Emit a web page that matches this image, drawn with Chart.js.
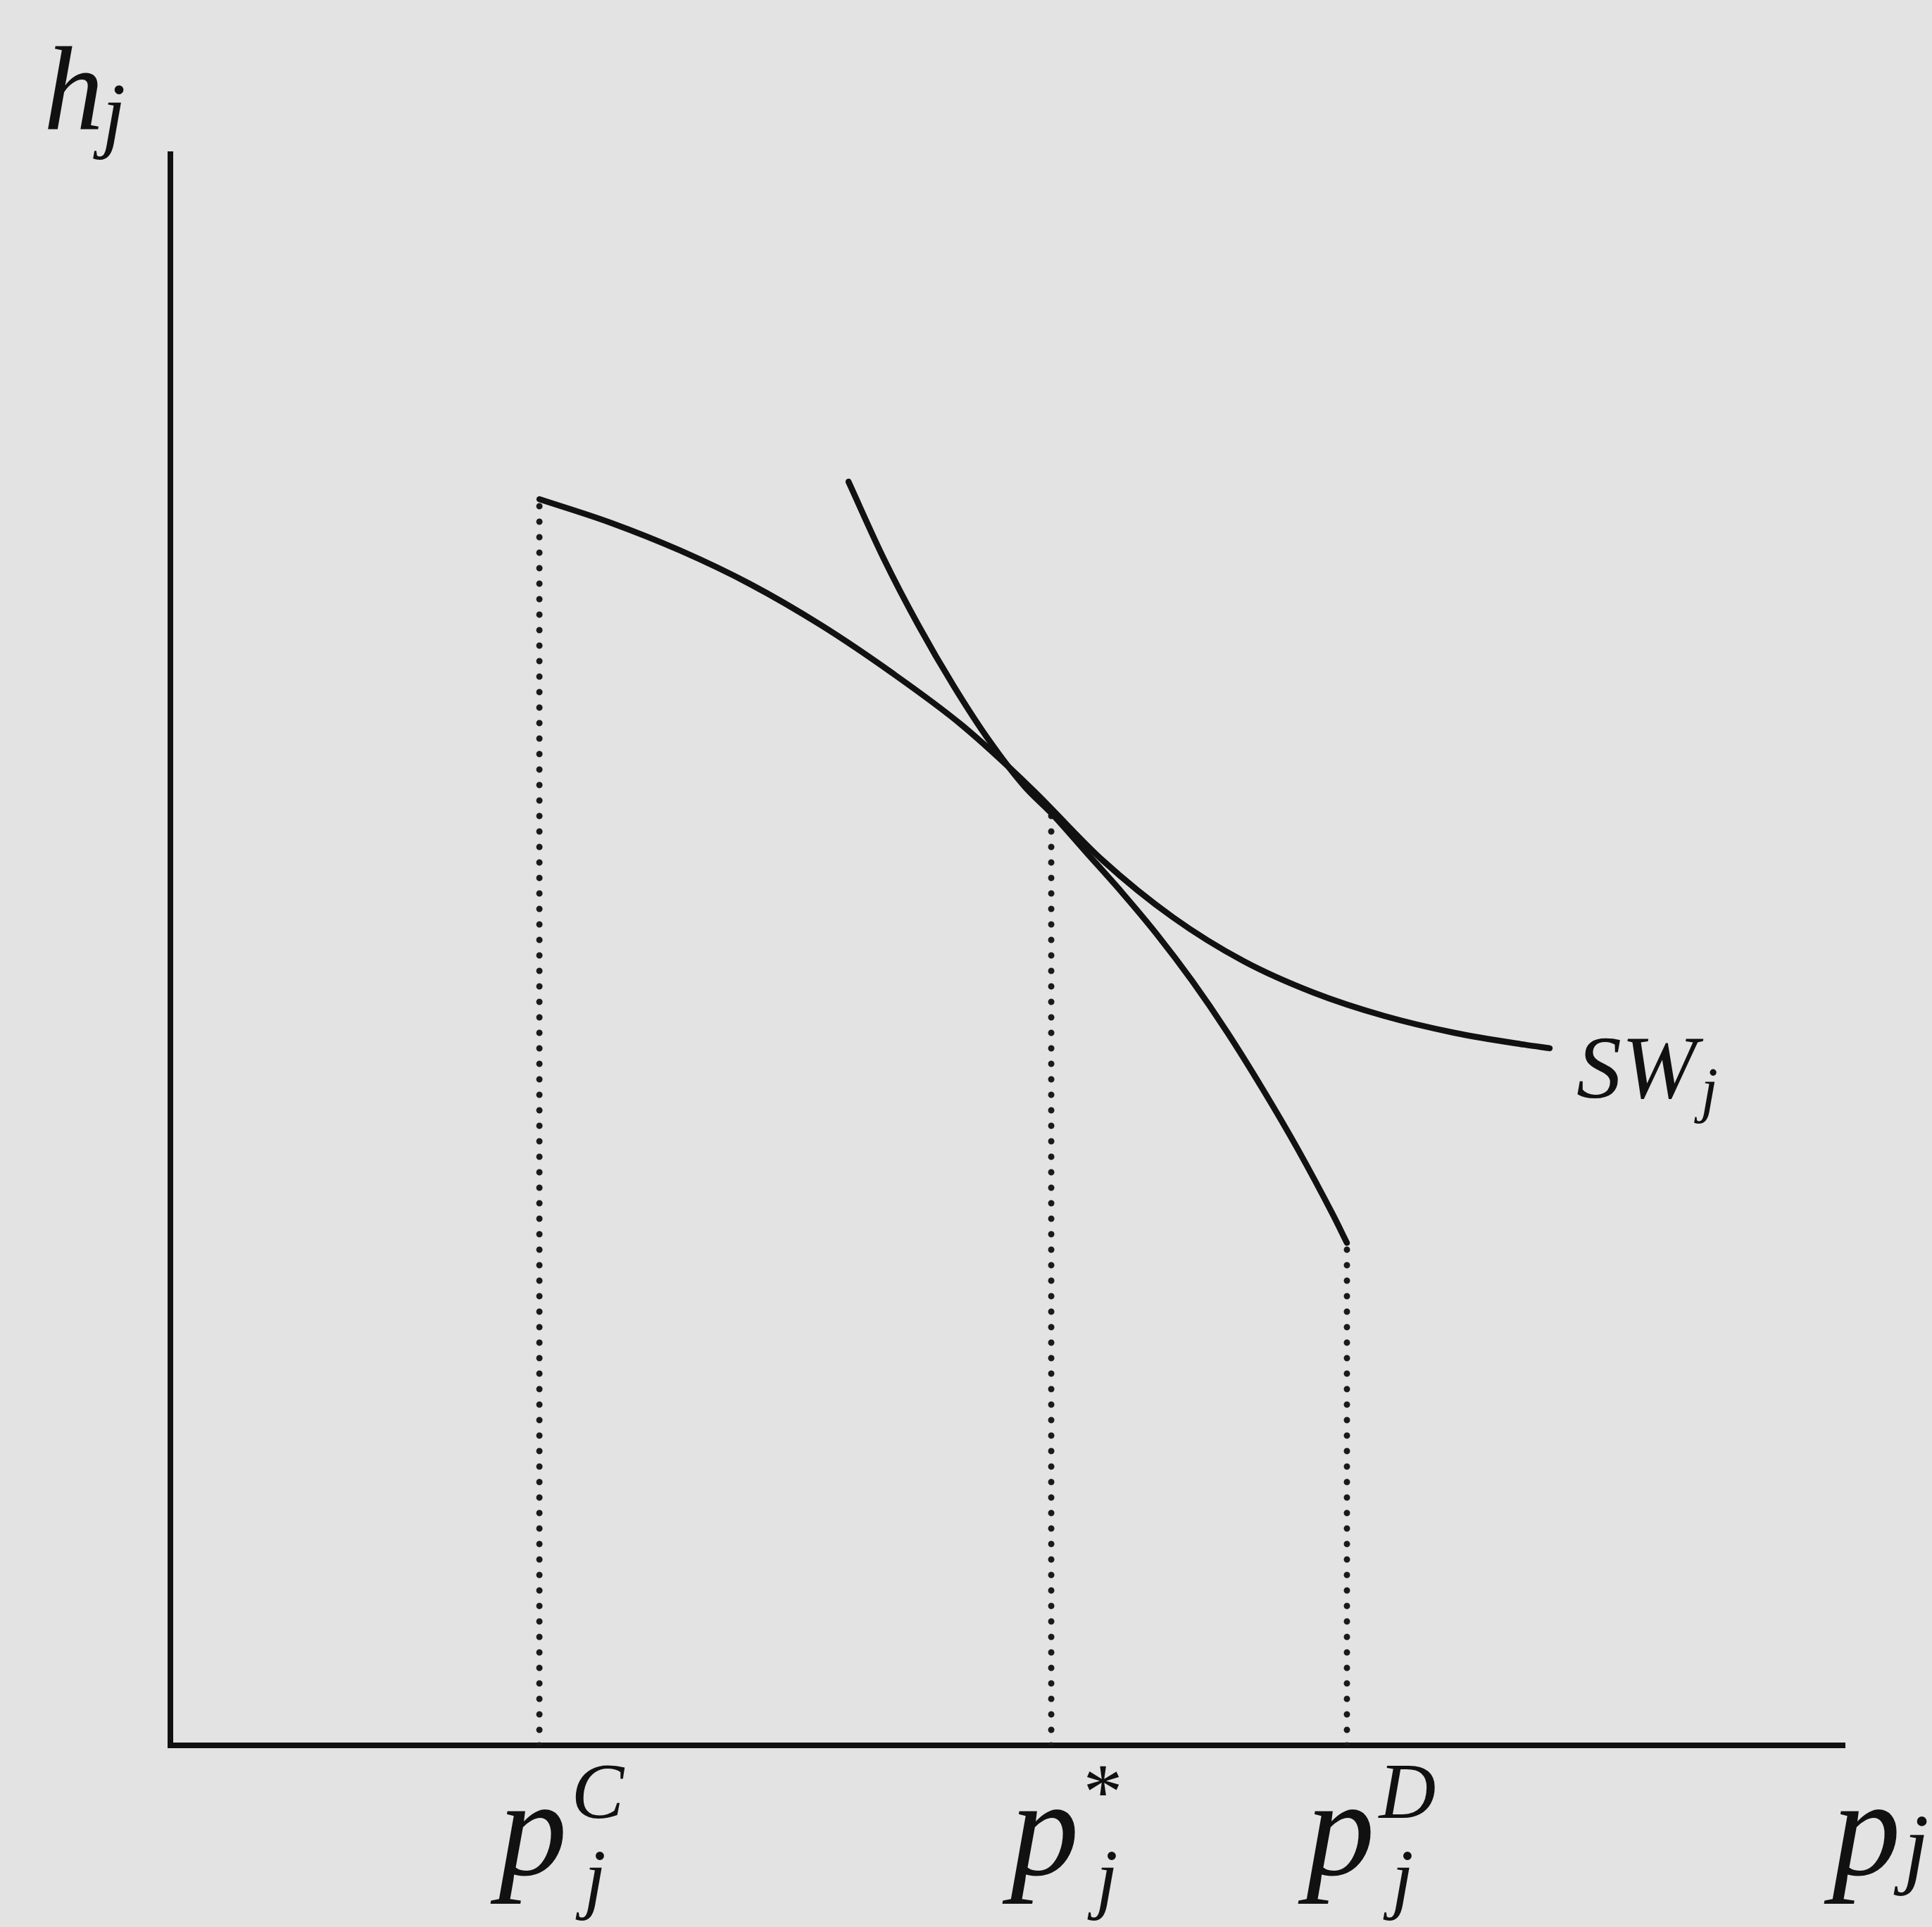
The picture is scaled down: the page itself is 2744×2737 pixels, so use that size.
<!DOCTYPE html>
<html>
<head>
<meta charset="utf-8">
<script src="https://cdn.jsdelivr.net/npm/chart.js@4/dist/chart.umd.min.js"></script>
<style>
  html, body { margin: 0; padding: 0; background: #e3e3e3; }
  #wrap { width: 2744px; height: 2737px; }
</style>
</head>
<body>
<div id="wrap"><canvas id="c" width="2744" height="2737"></canvas></div>
<script>
// ---- data (abstract units, axes run 0..100) ----
const swX = [22.04, 26.24, 30.45, 34.65, 38.86, 43.06, 47.27, 51.47, 55.68, 59.88, 64.09, 68.29, 72.50, 76.70, 80.91, 82.38];
const swY = [78.32, 76.86, 75.09, 72.97, 70.40, 67.43, 64.12, 60.09, 55.62, 52.04, 49.29, 47.30, 45.84, 44.78, 44.03, 43.81];

const hX = [40.50, 42.60, 44.70, 46.80, 48.91, 51.01, 52.61, 54.71, 56.81, 58.92, 61.02, 63.12, 65.22, 67.33, 69.43, 70.27];
const hY = [79.42, 74.60, 70.35, 66.55, 63.14, 60.27, 58.59, 56.11, 53.63, 50.97, 48.05, 44.82, 41.28, 37.48, 33.36, 31.58];

const pC = 22.04, pStar = 52.61, pD = 70.27;
const dropXs = [pC, pStar, pD];
const dropTops = [78.32, 58.5, 31.58];

const tickBase = ['p', 'p', 'p'];
const tickSup = ['C', '*', 'D'];
const tickSub = ['j', 'j', 'j'];
const yAxisLabel = ['h', 'j'];
const xAxisLabel = ['p', 'j'];
const curveLabel = ['SW', 'j'];

// ---- build datasets ----
const toPts = (xs, ys) => xs.map((x, i) => ({ x: x, y: ys[i] }));
const ink = '#111111';
const datasets = [
  { data: toPts(swX, swY), borderColor: ink, borderWidth: 8.5, pointRadius: 0, cubicInterpolationMode: 'monotone', borderCapStyle: 'round', borderJoinStyle: 'round', fill: false },
  { data: toPts(hX, hY), borderColor: ink, borderWidth: 8.5, pointRadius: 0, cubicInterpolationMode: 'monotone', borderCapStyle: 'round', borderJoinStyle: 'round', fill: false }
];
dropXs.forEach((x, i) => {
  datasets.push({ data: [{ x: x, y: 0 }, { x: x, y: dropTops[i] }], borderColor: '#1a1a1a', borderWidth: 9,
    borderDash: [0, 22], borderCapStyle: 'round', pointRadius: 0, fill: false });
});

const SERIF = '"Liberation Serif", "Times New Roman", serif';

const labelPlugin = {
  id: 'mathLabels',
  afterDraw(chart) {
    const ctx = chart.ctx;
    const xs = chart.scales.x, ys = chart.scales.y;
    ctx.save();
    ctx.fillStyle = ink;
    ctx.textBaseline = 'alphabetic';
    ctx.textAlign = 'left';
    const base = ys.getPixelForValue(0);
    // tick labels
    tickBase.forEach((b, i) => {
      const px = xs.getPixelForValue(dropXs[i]);
      const left = px - 58;
      const bl = base + 183;
      ctx.font = 'italic 195px ' + SERIF;
      ctx.fillText(b, left, bl);
      const w = ctx.measureText(b).width;
      ctx.font = (tickSup[i] === '*' ? '' : 'italic ') + '112px ' + SERIF;
      ctx.fillText(tickSup[i], left + w + 6, bl - 80);
      ctx.font = 'italic 112px ' + SERIF;
      ctx.fillText(tickSub[i], left + w + 24, bl + 42);
    });
    // x axis label
    const right = xs.getPixelForValue(100);
    ctx.font = 'italic 195px ' + SERIF;
    ctx.fillText(xAxisLabel[0], right - 18, base + 183);
    let w = ctx.measureText(xAxisLabel[0]).width;
    ctx.font = 'italic 130px ' + SERIF;
    ctx.fillText(xAxisLabel[1], right - 18 + w + 4, base + 186);
    // y axis label
    const top = ys.getPixelForValue(100);
    ctx.font = 'italic 170px ' + SERIF;
    ctx.fillText(yAxisLabel[0], 62, top - 36);
    w = ctx.measureText(yAxisLabel[0]).width;
    ctx.font = 'italic 120px ' + SERIF;
    ctx.fillText(yAxisLabel[1], 62 + w - 2, top - 18);
    // curve label
    const ex = xs.getPixelForValue(swX[swX.length - 1]);
    const ey = ys.getPixelForValue(swY[swY.length - 1]);
    ctx.font = 'italic 128px ' + SERIF;
    ctx.fillText(curveLabel[0], ex + 38, ey + 70);
    w = ctx.measureText(curveLabel[0]).width;
    ctx.font = 'italic 88px ' + SERIF;
    ctx.fillText(curveLabel[1], ex + 38 + w + 6, ey + 88);
    ctx.restore();
  }
};

const bgPlugin = {
  id: 'bg',
  beforeDraw(chart) {
    const ctx = chart.ctx;
    ctx.save();
    ctx.fillStyle = '#e3e3e3';
    ctx.fillRect(0, 0, chart.width, chart.height);
    ctx.restore();
  }
};

function build() {
  new Chart(document.getElementById('c'), {
    type: 'line',
    data: { datasets: datasets },
    options: {
      responsive: false,
      animation: false,
      events: [],
      layout: { padding: { left: 242, top: 219, right: 124, bottom: 258 } },
      plugins: { legend: { display: false }, tooltip: { enabled: false } },
      scales: {
        x: { type: 'linear', min: 0, max: 100,
             grid: { display: false, drawTicks: false },
             ticks: { display: false },
             border: { display: true, color: ink, width: 8 } },
        y: { type: 'linear', min: 0, max: 100,
             grid: { display: false, drawTicks: false },
             ticks: { display: false },
             border: { display: true, color: ink, width: 8 } }
      }
    },
    plugins: [bgPlugin, labelPlugin]
  });
}

const fontLoads = [
  'italic 100px "Liberation Serif"',
  '100px "Liberation Serif"'
].map(f => document.fonts.load(f).catch(() => null));
Promise.all(fontLoads).then(build, build);
</script>
</body>
</html>
